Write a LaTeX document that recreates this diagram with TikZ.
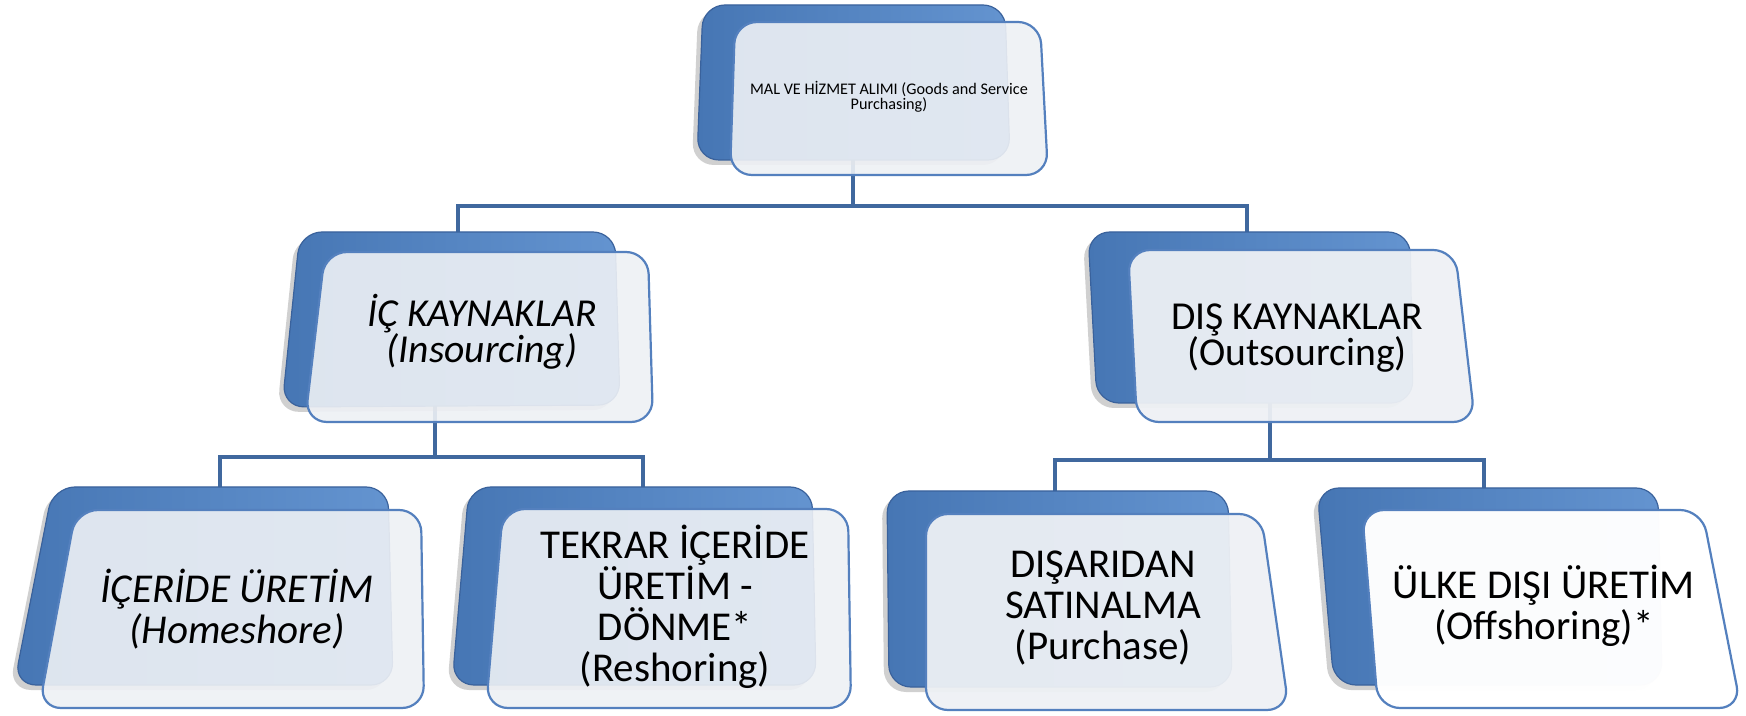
\documentclass[tikz,border=0pt]{standalone}
\usepackage{fontspec}
\setmainfont{Carlito}
\usetikzlibrary{shadows,calc}
\definecolor{bkA}{RGB}{70,118,180}
\definecolor{bkB}{RGB}{100,148,208}
\definecolor{bkedge}{RGB}{58,98,156}
\definecolor{frfill}{RGB}{238,241,245}
\definecolor{fredge}{RGB}{84,128,190}
\definecolor{conncol}{RGB}{64,104,158}
\tikzset{
  backbox/.style={left color=bkA,right color=bkB,draw=bkedge,line width=0.6pt,rounded corners=11pt,
    drop shadow={shadow xshift=-2.5pt,shadow yshift=-2.5pt,opacity=0.3,fill=black!60}},
  frontbox/.style={fill=frfill,fill opacity=#1,draw=fredge,draw opacity=1,line width=1.1pt,rounded corners=11pt},
  frontbox/.default=0.9,
  conn/.style={draw=conncol,line width=2pt},
  lbl/.style={align=center,text=black,inner sep=0pt},
  toptxt/.style={lbl,font=\fontsize{8.1}{7.4}\selectfont},
  midtxt/.style={lbl,font=\fontsize{19.8}{18}\selectfont},
  bottxt/.style={lbl,font=\fontsize{20.5}{20.5}\selectfont},
}
\begin{document}
\begin{tikzpicture}[x=0.5pt,y=-0.5pt]
\fill[white] (0,0) rectangle (1746,716);
\useasboundingbox (0,0) rectangle (1746,716);

% connection points
\coordinate (top-s) at (853,150);
\coordinate (ic-n) at (458,240);
\coordinate (dis-n) at (1247,240);
\coordinate (ic-s) at (435,390);
\coordinate (dis-s) at (1270,390);
\coordinate (b1-n) at (220,495);
\coordinate (b2-n) at (643,495);
\coordinate (b3-n) at (1055,498);
\coordinate (b4-n) at (1484,496);
\coordinate (bus1) at (0,206);
\coordinate (bus2) at (0,457);
\coordinate (bus3) at (0,460);

% connectors
\draw[conn] (top-s) |- (bus1 -| ic-n) -- (ic-n);
\draw[conn] (top-s) |- (bus1 -| dis-n) -- (dis-n);
\draw[conn] (ic-s) |- (bus2 -| b1-n) -- (b1-n);
\draw[conn] (ic-s) |- (bus2 -| b2-n) -- (b2-n);
\draw[conn] (dis-s) |- (bus3 -| b3-n) -- (b3-n);
\draw[conn] (dis-s) |- (bus3 -| b4-n) -- (b4-n);

% top node
\path[backbox] (703,5) -- (1005,5) -- (1010,160) -- (697,160) -- cycle;
\path[frontbox=0.9] (735,22) -- (1040,22) -- (1048,175) -- (730,175) -- cycle;
\node[toptxt] (top) at (889,97) {MAL VE HİZMET ALIMI (Goods and Service\\Purchasing)};

% İÇ KAYNAKLAR
\path[backbox] (300,232) -- (615,232) -- (620,405) -- (282,407) -- cycle;
\path[frontbox=0.9] (325,252) -- (648,252) -- (653,422) -- (305,422) -- cycle;
\node[midtxt,font=\fontsize{19.8}{18}\selectfont\itshape] (ic) at (482,332) {İÇ KAYNAKLAR\\(Insourcing)};

% DIŞ KAYNAKLAR
\path[backbox] (1088,232) -- (1410,232) -- (1413,403) -- (1097,403) -- cycle;
\path[frontbox=0.94] (1128,250) -- (1455,250) -- (1475,422) -- (1137,422) -- cycle;
\node[midtxt] (dis) at (1297,338) {DIŞ KAYNAKLAR\\(Outsourcing)};

% bottom 1
\path[backbox] (53,487) -- (388,487) -- (393,685) -- (14,685) -- cycle;
\path[frontbox=0.9] (76,510) -- (421,510) -- (424,708) -- (39,708) -- cycle;
\node[bottxt,font=\fontsize{20.5}{20.5}\selectfont\itshape] (b1) at (237,609) {İÇERİDE ÜRETİM\\(Homeshore)};

% bottom 2
\path[backbox] (469,487) -- (812,487) -- (816,685) -- (452,685) -- cycle;
\path[frontbox=0.9] (503,509) -- (848,509) -- (851,708) -- (486,708) -- cycle;
\node[bottxt] (b2) at (675,607) {TEKRAR İÇERİDE\\ÜRETİM -\\DÖNME*\\(Reshoring)};

% bottom 3
\path[backbox] (887,491) -- (1228,491) -- (1232,687) -- (889,687) -- cycle;
\path[frontbox=0.94] (926,514) -- (1261,514) -- (1289,710) -- (926,710) -- cycle;
\node[bottxt] (b3) at (1103,608) {DIŞARIDAN\\SATINALMA\\(Purchase)};

% bottom 4
\path[backbox] (1317,488) -- (1658,488) -- (1662,685) -- (1334,685) -- cycle;
\path[frontbox=0.98,fill=white] (1362,510) -- (1702,510) -- (1741,708) -- (1378,708) -- cycle;
\node[bottxt] (b4) at (1544,606) {ÜLKE DIŞI ÜRETİM\\(Offshoring)*};
\end{tikzpicture}
\end{document}
